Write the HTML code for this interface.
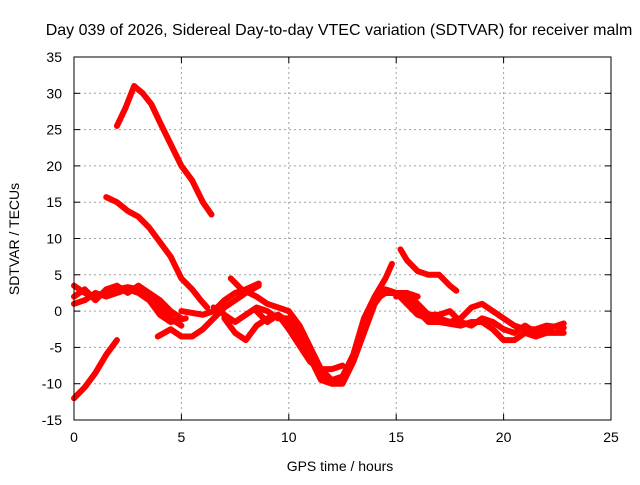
<!DOCTYPE html>
<html><head><meta charset="utf-8"><style>
body{margin:0;background:#fff}
svg text{font-family:"Liberation Sans",sans-serif;font-size:14px;fill:#000}
</style></head><body>
<svg id="chart" width="640" height="480" xmlns="http://www.w3.org/2000/svg">
<rect width="640" height="480" fill="#fff"/>
<text x="339" y="35" text-anchor="middle" style="font-size:16px">Day 039 of 2026, Sidereal Day-to-day VTEC variation (SDTVAR) for receiver malm</text>
<text x="340" y="471" text-anchor="middle">GPS time / hours</text>
<text transform="translate(19,239) rotate(-90)" text-anchor="middle">SDTVAR / TECUs</text>
<g id="grid"></g><g id="series"></g><g id="axes"></g>
</svg>
<script>
const xTicks=[0,5,10,15,20,25];
const yTicks=[-15,-10,-5,0,5,10,15,20,25,30,35];
const trackA=[[2,25.5],[2.4,28],[2.8,31],[3.2,30],[3.6,28.5],[4,26],[4.5,23],[5,20],[5.5,18],[6,15],[6.4,13.3]];
const trackB=[[1.5,15.7],[2,15],[2.5,13.8],[3,13],[3.5,11.5],[4,9.5],[4.5,7.5],[5,4.5],[5.5,3],[5.9,1.5],[6.2,0.5]];
const trackC=[[0,-12],[0.5,-10.5],[1,-8.5],[1.5,-6],[2,-4]];
const trackD=[[0,3.5],[0.5,2.5],[1,2],[1.5,2.5],[2,3],[2.5,3.3],[3,3],[3.5,2],[4,0.5],[4.5,-1],[5,-2]];
const trackE=[[0,1],[0.5,1.5],[1,2.5],[1.5,2],[2,2.5],[2.5,3],[3,2.5],[3.5,1.5],[4,-0.5],[4.5,-1.5],[5.2,-1]];
const trackE2=[[0,2],[0.5,3],[1,1.5],[1.5,3],[2,3.5],[2.5,2.5],[3,3.5],[3.5,2.5],[4,1.5],[4.5,0],[5,-1]];
const trackF=[[3.9,-3.5],[4.5,-2.5],[5,-3.5],[5.5,-3.5],[6,-2.5],[6.5,-1],[7,0.5],[7.5,1.5],[8,2.5],[8.6,3.5]];
const trackG=[[5,0],[6,-0.5],[6.5,0],[7,1.5],[7.5,2.5],[8,3],[8.6,3.8]];
const trackH=[[7.3,4.5],[7.8,3],[8.5,2],[9,1],[9.5,0.5],[10,0],[10.5,-2],[11,-5],[11.5,-8],[12,-9.5],[12.5,-9],[13,-6],[13.5,-1],[14,2],[14.5,4.5],[14.8,6.5]];
const trackI=[[7,-1],[7.5,-3],[8,-4],[8.5,-2],[9,-1],[9.5,-0.5],[10,-1.5],[10.5,-3],[11,-6],[11.5,-9],[12,-10],[12.5,-10],[13,-7],[13.5,-3],[14,1],[14.5,3],[15,2.5],[15.5,2.5],[16,2]];
const trackI2=[[6.5,0.5],[7,-0.5],[7.5,-1.5],[8,-0.5],[8.5,0.5],[9,0],[9.5,-1],[10,-1],[10.5,-3.5],[11,-6.5],[11.5,-9.5],[12,-10],[12.5,-9.5],[13,-6.5],[13.5,-2],[14,1.5],[14.5,2.5]];
const trackJ=[[15.2,8.5],[15.5,7],[16,5.5],[16.5,5],[17,5],[17.5,3.5],[17.8,2.8]];
const trackK=[[14.5,2.5],[15,2.5],[15.5,1],[16,-0.5],[16.5,-1],[17,-1],[17.5,-1.5],[18,-1],[18.5,0.5],[19,1],[19.5,0],[20,-1],[20.5,-2],[21,-2.5],[21.5,-2.5],[22,-2],[22.8,-2.3]];
const trackK2=[[15,2],[15.5,2.5],[16,1],[16.5,-0.5],[17,-0.5],[17.5,0],[18,-1.5],[18.5,-2],[19,-1],[19.5,-1.5],[20,-2.5],[20.5,-3],[21,-2],[21.5,-3],[22,-2.5],[22.8,-1.7]];
const trackL=[[15.5,2],[16,0],[16.5,-1.5],[17,-1.5],[18,-2],[18.5,-1.5],[19,-1.5],[19.5,-2.5],[20,-4],[20.5,-4],[21,-3],[21.5,-3.5],[22,-3],[22.8,-3]];
const trackM=[[8.5,0],[9,-1.5],[9.5,-0.5],[10,-2.5],[11,-7],[11.5,-8],[12,-8],[12.5,-7.5]];
const tracks=[trackA,trackB,trackC,trackD,trackE,trackE2,trackF,trackG,trackH,trackI,trackI2,trackJ,trackK,trackK2,trackL,trackM];

const L=74,R=611,T=57,B=420,xMin=0,xMax=25,yMin=-15,yMax=35;
const sx=v=>L+(v-xMin)/(xMax-xMin)*(R-L);
const sy=v=>B-(v-yMin)/(yMax-yMin)*(B-T);
const NS="http://www.w3.org/2000/svg";
function mk(tag,attrs,parent){const e=document.createElementNS(NS,tag);for(const k in attrs)e.setAttribute(k,attrs[k]);parent.appendChild(e);return e;}
const grid=document.getElementById('grid'),axes=document.getElementById('axes'),ser=document.getElementById('series');
xTicks.forEach(t=>{
  const x=sx(t);
  if(t>xMin&&t<xMax){const g=mk('line',{x1:x,x2:x,y1:T,y2:B,stroke:'#a0a0a0','stroke-dasharray':'2,3'},grid);
  
  }
  mk('line',{x1:x,x2:x,y1:B,y2:B-6,stroke:'#000'},axes);
  mk('line',{x1:x,x2:x,y1:T,y2:T+6,stroke:'#000'},axes);
  const tx=mk('text',{x:x,y:B+22,'text-anchor':'middle'},axes);tx.textContent=t;
  
  
});
yTicks.forEach(t=>{
  const y=sy(t);
  if(t>yMin&&t<yMax){const g=mk('line',{x1:L,x2:R,y1:y,y2:y,stroke:'#a0a0a0','stroke-dasharray':'2,3'},grid);
  
  }
  mk('line',{x1:L,x2:L+6,y1:y,y2:y,stroke:'#000'},axes);
  mk('line',{x1:R,x2:R-6,y1:y,y2:y,stroke:'#000'},axes);
  const tx=mk('text',{x:L-12,y:y+5,'text-anchor':'end'},axes);tx.textContent=t;
  
  
});
const fr=mk('rect',{x:L,y:T,width:R-L,height:B-T,fill:'none',stroke:'#000'},axes);


tracks.forEach(tr=>{
  const p=mk('polyline',{points:tr.map(d=>sx(d[0])+','+sy(d[1])).join(' '),fill:'none',stroke:'#f00','stroke-width':6,'stroke-linejoin':'round','stroke-linecap':'round'},ser);
  
  
});
</script>
</body></html>
